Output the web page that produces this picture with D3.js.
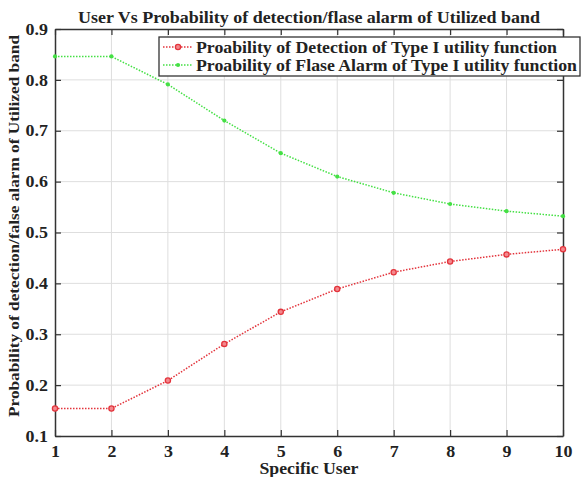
<!DOCTYPE html>
<html>
<head>
<meta charset="utf-8">
<script src="https://cdn.jsdelivr.net/npm/d3@7"></script>
<style>
  html, body { margin: 0; padding: 0; background: #fff; }
  svg { display: block; }
  text { font-family: "Liberation Serif", "Times New Roman", serif; font-weight: bold; fill: #222; }
</style>
</head>
<body>
<svg id="chart" width="582" height="477"></svg>
<script>
// Users on the x axis
const users = [1, 2, 3, 4, 5, 6, 7, 8, 9, 10];
// Probability of detection (Type I utility function)
const detection = [0.154, 0.154, 0.209, 0.281, 0.344, 0.389, 0.422, 0.443, 0.457, 0.467];
// Probability of false alarm (Type I utility function)
const falseAlarm = [0.846, 0.846, 0.791, 0.720, 0.656, 0.610, 0.578, 0.556, 0.542, 0.532];
// Axis ticks
const xTicks = [1, 2, 3, 4, 5, 6, 7, 8, 9, 10];
const yTicks = [0.1, 0.2, 0.3, 0.4, 0.5, 0.6, 0.7, 0.8, 0.9];
const seriesNames = [
  "Proability of Detection of Type I utility function",
  "Proability of Flase Alarm of Type I utility function"
];

const svg = d3.select("#chart");
const plot = { left: 55, right: 563, top: 29, bottom: 436 };

// fit a text to a given drawn length
function fitTo(sel, len) {
  sel.attr("textLength", len).attr("lengthAdjust", "spacingAndGlyphs");
}
// widen each text by a factor
function stretch(sel, factor) {
  sel.each(function () {
    const len = this.getComputedTextLength();
    d3.select(this).attr("textLength", len * factor).attr("lengthAdjust", "spacingAndGlyphs");
  });
}

const x = d3.scaleLinear().domain([1, 10]).range([plot.left, plot.right]);
const y = d3.scaleLinear().domain([0.1, 0.9]).range([plot.bottom, plot.top]);

// grid
const grid = svg.append("g");
grid.selectAll("line.gx").data(xTicks.slice(1, -1)).join("line")
  .attr("x1", d => x(d)).attr("x2", d => x(d))
  .attr("y1", plot.top).attr("y2", plot.bottom)
  .attr("stroke", "#dedede").attr("stroke-width", 1);
grid.selectAll("line.gy").data(yTicks.slice(1, -1)).join("line")
  .attr("y1", d => y(d)).attr("y2", d => y(d))
  .attr("x1", plot.left).attr("x2", plot.right)
  .attr("stroke", "#dedede").attr("stroke-width", 1);

// axes (ticks pointing inward, mirrored on top and right)
const axisStyle = g => {
  g.select(".domain").attr("stroke", "#333").attr("stroke-width", 1.5);
  g.selectAll(".tick line").attr("stroke", "#333").attr("stroke-width", 1.2);
};
const labelStyle = g => g.selectAll(".tick text")
  .attr("font-size", 16).attr("font-family", "Liberation Serif")
  .attr("font-weight", "bold").attr("fill", "#222")
  .call(stretch, 1.12);

svg.append("g").attr("transform", `translate(0,${plot.bottom})`)
  .call(d3.axisBottom(x).tickValues(xTicks).tickSize(-6).tickSizeOuter(0).tickPadding(10).tickFormat(d3.format("d")))
  .call(axisStyle).call(labelStyle);
svg.append("g").attr("transform", `translate(0,${plot.top})`)
  .call(d3.axisTop(x).tickValues(xTicks).tickSize(-6).tickSizeOuter(0).tickFormat(""))
  .call(axisStyle);
svg.append("g").attr("transform", `translate(${plot.left},0)`)
  .call(d3.axisLeft(y).tickValues(yTicks).tickSize(-6).tickSizeOuter(0).tickPadding(7).tickFormat(d3.format(".1f")))
  .call(axisStyle).call(labelStyle);
svg.append("g").attr("transform", `translate(${plot.right},0)`)
  .call(d3.axisRight(y).tickValues(yTicks).tickSize(-6).tickSizeOuter(0).tickFormat(""))
  .call(axisStyle);

// series
const line = d3.line().x((d, i) => x(users[i])).y(d => y(d));
const red = "#e3343c", green = "#44e044";

svg.append("path").datum(falseAlarm).attr("d", line)
  .attr("fill", "none").attr("stroke", green).attr("stroke-width", 1.5).attr("stroke-dasharray", "1.5,1.5");
svg.append("g").selectAll("circle").data(falseAlarm).join("circle")
  .attr("cx", (d, i) => x(users[i])).attr("cy", d => y(d)).attr("r", 2.1).attr("fill", green);

svg.append("path").datum(detection).attr("d", line)
  .attr("fill", "none").attr("stroke", red).attr("stroke-width", 1.5).attr("stroke-dasharray", "1.5,1.5");
svg.append("g").selectAll("circle").data(detection).join("circle")
  .attr("cx", (d, i) => x(users[i])).attr("cy", d => y(d)).attr("r", 2.6)
  .attr("fill", "#f3888d").attr("stroke", red).attr("stroke-width", 1.3);

// legend
const lg = svg.append("g");
lg.append("rect").attr("x", 159).attr("y", 37).attr("width", 421).attr("height", 39)
  .attr("fill", "#fff").attr("stroke", "#333").attr("stroke-width", 1.3);
const legendRows = [
  { name: seriesNames[0], color: red, marker: "circle", len: 361 },
  { name: seriesNames[1], color: green, marker: "dot", len: 381 }
];
legendRows.forEach((r, i) => {
  const cy = 47 + i * 18;
  lg.append("line").attr("x1", 163).attr("x2", 193).attr("y1", cy).attr("y2", cy)
    .attr("stroke", r.color).attr("stroke-width", 1.5).attr("stroke-dasharray", "1.5,1.5");
  if (r.marker === "circle") {
    lg.append("circle").attr("cx", 178).attr("cy", cy).attr("r", 2.6)
      .attr("fill", "#f3888d").attr("stroke", red).attr("stroke-width", 1.3);
  } else {
    lg.append("circle").attr("cx", 178).attr("cy", cy).attr("r", 2.1).attr("fill", green);
  }
  lg.append("text").attr("x", 196).attr("y", cy + 5.5).attr("font-size", 16).text(r.name)
    .call(fitTo, r.len);
});

// titles
svg.append("text").attr("x", 309).attr("y", 23).attr("text-anchor", "middle")
  .attr("font-size", 16).text("User Vs Probability of detection/flase alarm of Utilized band")
  .call(fitTo, 462);
svg.append("text").attr("x", 309).attr("y", 474).attr("text-anchor", "middle")
  .attr("font-size", 16).text("Specific User")
  .call(fitTo, 99);
svg.append("text").attr("transform", "translate(19,226) rotate(-90)").attr("text-anchor", "middle")
  .attr("font-size", 15).text("Probability of detection/false alarm of Utilized band")
  .call(fitTo, 382);
</script>
</body>
</html>
